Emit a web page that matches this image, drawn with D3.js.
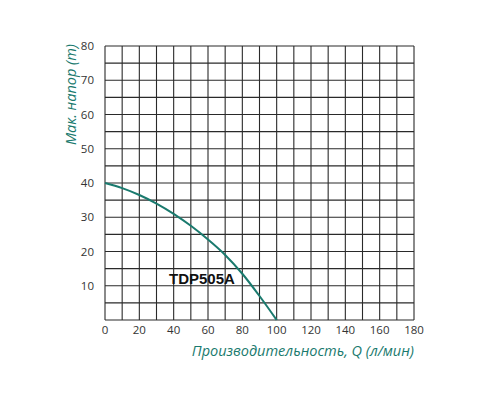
<!DOCTYPE html><html><head><meta charset="utf-8">
<script src="https://cdn.jsdelivr.net/npm/d3@7"></script>
<style>body{margin:0;background:#fff}</style></head><body><svg width="500" height="400"></svg>
<script>
const flow=[0,10,20,30,40,50,60,70,80,90,100];
const head=[40,38.5,36.5,34,31,27.5,23.5,19,13.5,7,0];
const xTicks=[0,20,40,60,80,100,120,140,160,180];
const yTicks=[10,20,30,40,50,60,70,80];
const svg=d3.select("svg");
const x=d3.scaleLinear([0,180],[105,414]);
const y=d3.scaleLinear([0,80],[320,46]);
const teal="#1a7a6e", grid="#2a2a2a";
const g=svg.append("g");
g.selectAll(".v").data(d3.range(0,181,10)).join("line").attr("x1",d=>x(d)).attr("x2",d=>x(d)).attr("y1",y(0)).attr("y2",y(80)).attr("stroke",grid).attr("stroke-width",1.1);
g.selectAll(".h").data(d3.range(0,81,5)).join("line").attr("y1",d=>y(d)).attr("y2",d=>y(d)).attr("x1",x(0)).attr("x2",x(180)).attr("stroke",grid).attr("stroke-width",1.1);
svg.selectAll(".xt").data(xTicks).join("text").attr("x",d=>x(d)).attr("y",334).attr("text-anchor","middle").attr("font-family","Open Sans").attr("font-size",11.5).attr("fill","#333").text(d=>d);
svg.selectAll(".yt").data(yTicks).join("text").attr("x",94).attr("y",d=>y(d)+4).attr("text-anchor","end").attr("font-family","Open Sans").attr("font-size",11.5).attr("fill","#333").text(d=>d);
svg.append("path").datum(flow.map((f,i)=>[f,head[i]])).attr("d",d3.line(d=>x(d[0]),d=>y(d[1])).curve(d3.curveMonotoneX)).attr("fill","none").attr("stroke",teal).attr("stroke-width",2);
svg.append("text").attr("x",169).attr("y",284).attr("font-family","Liberation Sans").attr("font-weight","bold").attr("font-size",15).attr("fill","#111").text("TDP505A");
svg.append("text").attr("x",414).attr("y",356).attr("text-anchor","end").attr("font-family","Open Sans").attr("font-style","italic").attr("font-size",14.5).attr("fill",teal).text("Производительность, Q (л/мин)");
svg.append("text").attr("transform","translate(76,44) rotate(-90)").attr("text-anchor","end").attr("font-family","Open Sans").attr("font-style","italic").attr("font-size",14.5).attr("fill",teal).text("Мак. напор (m)");
</script></body></html>
